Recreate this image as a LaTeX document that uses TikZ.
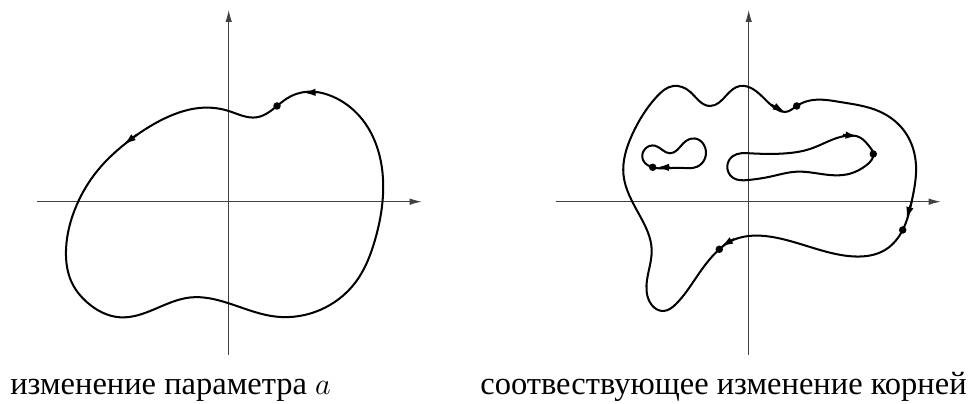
\documentclass[tikz,border=0pt]{standalone}
\usepackage{fontspec}
\setmainfont{Liberation Serif}
\usetikzlibrary{arrows.meta,hobby}
\tikzset{
  axis/.style={line width=0.55pt, black!75, -{Latex[length=0.24cm,width=0.13cm]}},
  curve/.style={line width=1.15pt, black, use Hobby shortcut, closed=true},
  tipmark/.style={line width=1.1pt, -{Latex[length=0.24cm,width=0.15cm]}},
  root/.style={circle, fill=black, inner sep=0pt, minimum size=0.15cm},
  caption/.style={font=\fontsize{18.5}{22}\selectfont, inner sep=0pt}
}
\begin{document}
\begin{tikzpicture}[x=0.02cm,y=-0.02cm]
\useasboundingbox (0,0) rectangle (971,404);
% ---------- left panel ----------
\coordinate (lxs) at (37,201.7);
\coordinate (lxe) at (421.7,201.7);
\coordinate (lys) at (228.7,355);
\coordinate (lye) at (228.7,10);
\draw[axis] (lxs) -- (lxe);
\draw[axis] (lys) -- (lye);
\draw[curve] (277,106) .. (256.7,117.3) .. (228.7,111) .. (203,107.7) .. (170,116)
 .. (130,140) .. (98,170) .. (76.7,205) .. (66,250) .. (73,285) .. (86.7,302)
 .. (120,317.3) .. (155,309) .. (190,297.5) .. (228.7,303.3) .. (276.7,316.7)
 .. (320,310) .. (355,283) .. (375,240) .. (383,195) .. (378,150) .. (360,116.7)
 .. (333,96.7) .. (313,91.7) .. (290,96.7);
\node[root] (ld) at (277,106) {};
\coordinate (la1b) at (318,92.2);
\coordinate (la1t) at (303.5,92.8);
\draw[tipmark] (la1b) -- (la1t);
\coordinate (la2b) at (137,134.5);
\coordinate (la2t) at (124,144.5);
\draw[tipmark] (la2b) -- (la2t);
\node[caption, anchor=base west] (lcap) at (10,395) {изменение параметра $a$};
% ---------- right panel ----------
\coordinate (rxs) at (556,201.7);
\coordinate (rxe) at (940.7,201.7);
\coordinate (rys) at (748.7,355);
\coordinate (rye) at (748.7,10);
\draw[axis] (rxs) -- (rxe);
\draw[axis] (rys) -- (rye);
% outer curve
\draw[curve] (796.7,106) .. (810,100.5) .. (840,102) .. (880,111.7) .. (905,132)
 .. (916,165) .. (912,200) .. (902.7,230) .. (885,250) .. (855,256.5) .. (820,250)
 .. (780,238.5) .. (748.7,236) .. (730,241.5) .. (719.3,249.3) .. (700,272)
 .. (676,304) .. (663.3,311) .. (651.7,305) .. (646.5,285) .. (651.7,250)
 .. (640,216) .. (623.5,175) .. (632,135) .. (656.7,96.7) .. (673.3,86)
 .. (690,91.7) .. (710,106) .. (726.7,95) .. (740,86) .. (753.3,89.3)
 .. (776.7,109.3) .. (785,112);
% small left loop
\draw[curve] (652.7,167.3) .. (643,160) .. (645,149) .. (655,145.7) .. (670,153.3)
 .. (683.3,143.3) .. (695,138.5) .. (704,145) .. (705,158.3) .. (697,166.8)
 .. (680,167.8);
% middle loop
\draw[curve] (873.3,154) .. (866.7,165) .. (850,173.7) .. (825,174.5) .. (796.7,171.7)
 .. (770,176.7) .. (748.3,180) .. (733.3,178) .. (727.3,166) .. (733,156)
 .. (750,153.3) .. (786.7,153.3) .. (810,149) .. (846.7,135.7) .. (860,137.5)
 .. (869,146);
\node[root] (r1) at (796.7,106) {};
\node[root] (r2) at (902.7,230) {};
\node[root] (r3) at (719.3,249.3) {};
\node[root] (r4) at (652.7,167.3) {};
\node[root] (r5) at (873.3,154) {};
\coordinate (ra1b) at (771,104.5);
\coordinate (ra1t) at (785,112);
\draw[tipmark] (ra1b) -- (ra1t);
\coordinate (ra2b) at (911.5,202);
\coordinate (ra2t) at (906.5,219);
\draw[tipmark] (ra2b) -- (ra2t);
\coordinate (ra3b) at (734,239);
\coordinate (ra3t) at (721,246.5);
\draw[tipmark] (ra3b) -- (ra3t);
\coordinate (ra4b) at (670,167.4);
\coordinate (ra4t) at (657,167.3);
\draw[tipmark] (ra4b) -- (ra4t);
\coordinate (ra5b) at (843,134.8);
\coordinate (ra5t) at (857.5,136.3);
\draw[tipmark] (ra5b) -- (ra5t);
\node[caption, anchor=base east] (rcap) at (967,395) {соотвествующее изменение корней};
\end{tikzpicture}
\end{document}
